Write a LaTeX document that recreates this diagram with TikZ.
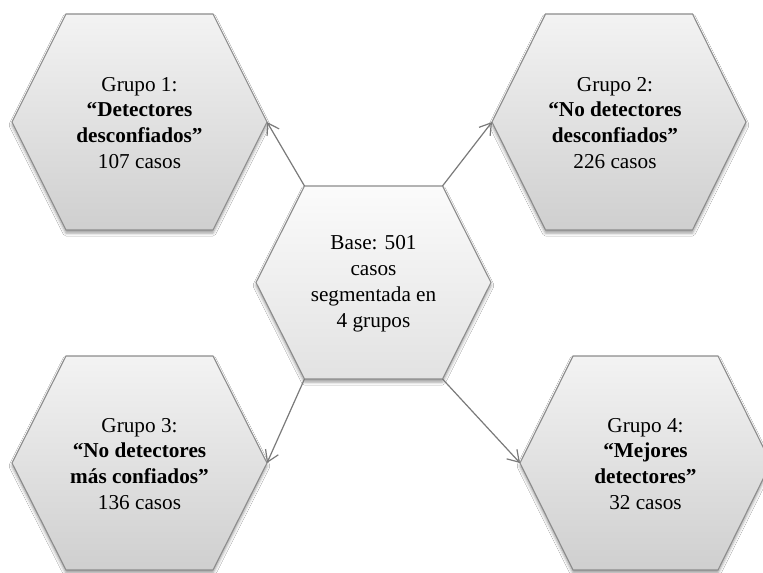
\documentclass[tikz,border=0pt]{standalone}
\usepackage{fontspec}
\setmainfont{Liberation Serif}
\usetikzlibrary{arrows.meta,shadows.blur}
\definecolor{hexborder}{HTML}{8C8C8C}
\definecolor{hextop}{HTML}{F3F3F3}
\definecolor{hexbot}{HTML}{CFCFCF}
\definecolor{midtop}{HTML}{FBFBFB}
\definecolor{midbot}{HTML}{E2E2E2}
\definecolor{connc}{HTML}{7A7A7A}
\tikzset{
  hexout/.style={draw=hexborder, line width=1.1bp, top color=hextop, bottom color=hexbot,
    blur shadow={shadow xshift=0bp, shadow yshift=-3bp, shadow blur radius=3bp, shadow opacity=40}},
  hexmid/.style={draw=hexborder, line width=1.1bp, top color=midtop, bottom color=midbot,
    blur shadow={shadow xshift=0bp, shadow yshift=-3bp, shadow blur radius=3bp, shadow opacity=40}},
  txt/.style={align=center, font=\fontsize{21.3}{26}\selectfont, text=black, inner sep=0pt},
  conn/.style={draw=connc, line width=1.2bp, -{Straight Barb[length=11bp,width=14bp,line width=1.2bp]}}
}
\newcommand\hexshape[7]{% #1 name, #2 style, #3 cx, #4 cy, #5 half width, #6 half height, #7 half top edge
  \path (#3,#4) coordinate (#1)
    ({#3-#5},#4) coordinate (#1-l)
    ({#3+#5},#4) coordinate (#1-r)
    ({#3-#7},{#4-#6}) coordinate (#1-tl)
    ({#3+#7},{#4-#6}) coordinate (#1-tr)
    ({#3-#7},{#4+#6}) coordinate (#1-bl)
    ({#3+#7},{#4+#6}) coordinate (#1-br);
  \path[#2] (#1-l) -- (#1-tl) -- (#1-tr) -- (#1-r) -- (#1-br) -- (#1-bl) -- cycle;
}
\begin{document}
\begin{tikzpicture}[x=1bp,y=-1bp]
\useasboundingbox (0,0) rectangle (763,573);
\clip (0,0) rectangle (763,573);
\fill[white] (0,0) rectangle (763,573);

\hexshape{g1}{hexout}{139.5}{122}{127.5}{108}{73.5}
\hexshape{g2}{hexout}{619}{122}{127}{108}{73.5}
\hexshape{g3}{hexout}{139.5}{463}{127.5}{107}{73.5}
\hexshape{g4}{hexout}{645.5}{463}{125.5}{107}{72.5}
\hexshape{c}{hexmid}{373.5}{282.5}{117.5}{96.5}{69}

\node[txt] (t1) at ([yshift=-1bp]g1) {Grupo 1:\\\textbf{“Detectores}\\\textbf{desconfiados”}\\107 casos};
\node[txt] (t2) at ([xshift=-4bp,yshift=-1bp]g2) {Grupo 2:\\\textbf{“No detectores}\\\textbf{desconfiados”}\\226 casos};
\node[txt] (t3) at ([yshift=-1bp]g3) {Grupo 3:\\\textbf{“No detectores}\\\textbf{más confiados”}\\136 casos};
\node[txt] (t4) at ([yshift=-1bp]g4) {Grupo 4:\\\textbf{“Mejores}\\\textbf{detectores”}\\32 casos};
\node[txt] (tc) at ([yshift=-1bp]c) {Base: 501\\casos\\segmentada en\\4 grupos};

\draw[conn] (c-tl) -- (g1-r);
\draw[conn] (c-tr) -- (g2-l);
\draw[conn] (c-bl) -- (g3-r);
\draw[conn] (c-br) -- (g4-l);
\end{tikzpicture}
\end{document}
